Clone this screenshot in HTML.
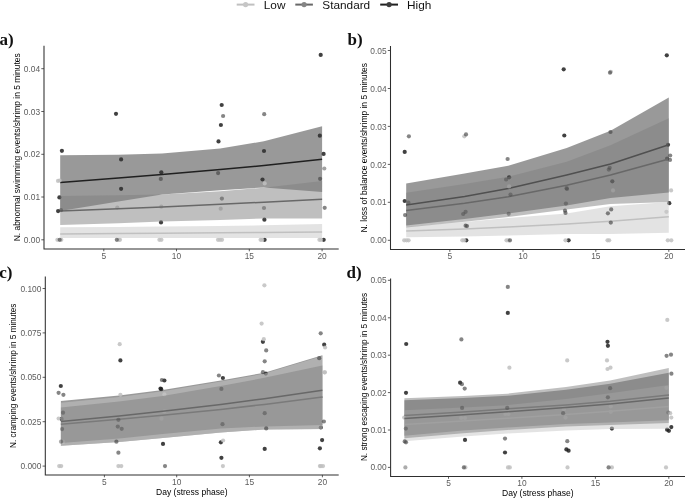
<!DOCTYPE html>
<html><head><meta charset="utf-8"><title>Figure</title>
<style>html,body{margin:0;padding:0;background:#fff;}body{width:685px;height:498px;overflow:hidden;font-family:"Liberation Sans", sans-serif;}svg{display:block;filter:grayscale(1);}</style>
</head><body>
<svg width="685" height="498" viewBox="0 0 685 498" font-family='"Liberation Sans", sans-serif'>
<rect width="685" height="498" fill="#fff"/>
<line x1="236.7" x2="254.5" y1="4.6" y2="4.6" stroke="#c0c0c0" stroke-width="2"/>
<circle cx="245.6" cy="4.6" r="2.6" fill="#c6c6c6"/>
<line x1="295.3" x2="312.9" y1="4.6" y2="4.6" stroke="#686868" stroke-width="2"/>
<circle cx="304.1" cy="4.6" r="2.6" fill="#858585"/>
<line x1="380.2" x2="398.0" y1="4.6" y2="4.6" stroke="#202020" stroke-width="2"/>
<circle cx="389.1" cy="4.6" r="2.6" fill="#3c3c3c"/>
<text x="263.8" y="8.5" font-size="11.8" fill="#111">Low</text>
<text x="322.3" y="8.5" font-size="11.8" fill="#111">Standard</text>
<text x="407.0" y="8.5" font-size="11.8" fill="#111">High</text>
<circle cx="116.0" cy="113.8" r="2.1" fill="#202020" fill-opacity="0.85"/>
<circle cx="320.7" cy="54.9" r="2.1" fill="#202020" fill-opacity="0.85"/>
<circle cx="221.7" cy="105.0" r="2.1" fill="#202020" fill-opacity="0.85"/>
<circle cx="220.9" cy="125.0" r="2.1" fill="#202020" fill-opacity="0.85"/>
<circle cx="218.5" cy="141.4" r="2.1" fill="#202020" fill-opacity="0.85"/>
<circle cx="319.8" cy="135.7" r="2.1" fill="#202020" fill-opacity="0.85"/>
<circle cx="61.9" cy="150.8" r="2.1" fill="#202020" fill-opacity="0.85"/>
<circle cx="121.1" cy="159.4" r="2.1" fill="#202020" fill-opacity="0.85"/>
<circle cx="161.3" cy="172.3" r="2.1" fill="#202020" fill-opacity="0.85"/>
<circle cx="121.1" cy="188.8" r="2.1" fill="#202020" fill-opacity="0.85"/>
<circle cx="59.4" cy="197.4" r="2.1" fill="#202020" fill-opacity="0.85"/>
<circle cx="58.1" cy="211.1" r="2.1" fill="#202020" fill-opacity="0.85"/>
<circle cx="161.0" cy="222.4" r="2.1" fill="#202020" fill-opacity="0.85"/>
<circle cx="264.0" cy="151.0" r="2.1" fill="#202020" fill-opacity="0.85"/>
<circle cx="323.6" cy="153.9" r="2.1" fill="#202020" fill-opacity="0.85"/>
<circle cx="262.5" cy="179.5" r="2.1" fill="#202020" fill-opacity="0.85"/>
<circle cx="264.4" cy="219.7" r="2.1" fill="#202020" fill-opacity="0.85"/>
<circle cx="264.6" cy="239.8" r="2.1" fill="#202020" fill-opacity="0.85"/>
<circle cx="323.7" cy="239.8" r="2.1" fill="#202020" fill-opacity="0.85"/>
<polygon points="60.2,155.2 118.4,154.7 162.0,153.5 220.2,148.6 263.9,141.3 322.1,126.2 322.1,191.9 263.9,187.5 220.2,190.2 162.0,194.6 118.4,201.6 60.2,210.9" fill="#333333" fill-opacity="0.5"/>
<polyline points="60.2,182.6 118.4,178.0 162.0,174.6 220.2,169.6 263.9,165.5 322.1,159.3" fill="none" stroke="#202020" stroke-width="1.55"/>
<circle cx="58.0" cy="180.9" r="2.1" fill="#c0c0c0" fill-opacity="0.85"/>
<circle cx="59.6" cy="180.5" r="2.1" fill="#c0c0c0" fill-opacity="0.85"/>
<circle cx="117.3" cy="207.6" r="2.1" fill="#c0c0c0" fill-opacity="0.85"/>
<circle cx="161.3" cy="206.7" r="2.1" fill="#c0c0c0" fill-opacity="0.85"/>
<circle cx="264.7" cy="183.4" r="2.1" fill="#c0c0c0" fill-opacity="0.85"/>
<circle cx="220.7" cy="208.7" r="2.1" fill="#c0c0c0" fill-opacity="0.85"/>
<circle cx="218.0" cy="239.8" r="2.1" fill="#c0c0c0" fill-opacity="0.85"/>
<circle cx="220.0" cy="239.8" r="2.1" fill="#c0c0c0" fill-opacity="0.85"/>
<circle cx="222.0" cy="239.8" r="2.1" fill="#c0c0c0" fill-opacity="0.85"/>
<circle cx="260.6" cy="239.8" r="2.1" fill="#c0c0c0" fill-opacity="0.85"/>
<circle cx="262.2" cy="239.8" r="2.1" fill="#c0c0c0" fill-opacity="0.85"/>
<circle cx="319.4" cy="239.8" r="2.1" fill="#c0c0c0" fill-opacity="0.85"/>
<circle cx="321.0" cy="239.8" r="2.1" fill="#c0c0c0" fill-opacity="0.85"/>
<circle cx="57.4" cy="239.8" r="2.1" fill="#c0c0c0" fill-opacity="0.85"/>
<circle cx="61.3" cy="239.8" r="2.1" fill="#c0c0c0" fill-opacity="0.85"/>
<circle cx="118.8" cy="239.8" r="2.1" fill="#c0c0c0" fill-opacity="0.85"/>
<circle cx="120.0" cy="239.8" r="2.1" fill="#c0c0c0" fill-opacity="0.85"/>
<circle cx="159.4" cy="239.8" r="2.1" fill="#c0c0c0" fill-opacity="0.85"/>
<circle cx="161.4" cy="239.8" r="2.1" fill="#c0c0c0" fill-opacity="0.85"/>
<polygon points="60.2,227.3 118.4,227.0 162.0,226.6 220.2,226.0 263.9,225.3 322.1,224.0 322.1,237.9 263.9,237.9 220.2,237.9 162.0,237.9 118.4,237.9 60.2,237.9" fill="#c8c8c8" fill-opacity="0.5"/>
<polyline points="60.2,233.9 118.4,233.5 162.0,233.2 220.2,232.8 263.9,232.4 322.1,231.9" fill="none" stroke="#c0c0c0" stroke-width="1.55"/>
<polygon points="60.2,195.9 118.4,195.3 162.0,194.6 220.2,191.3 263.9,187.7 322.1,180.9 322.1,218.4 263.9,218.5 220.2,220.0 162.0,221.6 118.4,223.2 60.2,224.9" fill="#7f7f7f" fill-opacity="0.5"/>
<polyline points="60.2,211.0 118.4,208.8 162.0,206.9 220.2,204.3 263.9,202.2 322.1,199.2" fill="none" stroke="#686868" stroke-width="1.55"/>
<circle cx="223.1" cy="116.0" r="2.1" fill="#434343" fill-opacity="0.65"/>
<circle cx="264.2" cy="114.2" r="2.1" fill="#434343" fill-opacity="0.65"/>
<circle cx="160.8" cy="178.9" r="2.1" fill="#434343" fill-opacity="0.65"/>
<circle cx="61.0" cy="210.2" r="2.1" fill="#434343" fill-opacity="0.45"/>
<circle cx="324.3" cy="168.5" r="2.1" fill="#707070" fill-opacity="0.65"/>
<circle cx="218.1" cy="173.1" r="2.1" fill="#434343" fill-opacity="0.65"/>
<circle cx="320.1" cy="178.8" r="2.1" fill="#434343" fill-opacity="0.65"/>
<circle cx="221.9" cy="198.6" r="2.1" fill="#303030" fill-opacity="0.45"/>
<circle cx="264.0" cy="208.0" r="2.1" fill="#434343" fill-opacity="0.45"/>
<circle cx="324.7" cy="207.8" r="2.1" fill="#434343" fill-opacity="0.65"/>
<circle cx="59.7" cy="239.8" r="2.1" fill="#434343" fill-opacity="0.65"/>
<circle cx="116.8" cy="239.8" r="2.1" fill="#434343" fill-opacity="0.65"/>
<path d="M44.0,45.8 V248.9 H338.7" fill="none" stroke="#2e2e2e" stroke-width="1.05"/>
<line x1="41.3" x2="44.0" y1="239.8" y2="239.8" stroke="#333" stroke-width="0.8"/>
<text x="40.1" y="242.9" text-anchor="end" font-size="8.4" fill="#5c5c5c">0.00</text>
<line x1="41.3" x2="44.0" y1="197.0" y2="197.0" stroke="#333" stroke-width="0.8"/>
<text x="40.1" y="200.1" text-anchor="end" font-size="8.4" fill="#5c5c5c">0.01</text>
<line x1="41.3" x2="44.0" y1="154.3" y2="154.3" stroke="#333" stroke-width="0.8"/>
<text x="40.1" y="157.4" text-anchor="end" font-size="8.4" fill="#5c5c5c">0.02</text>
<line x1="41.3" x2="44.0" y1="111.5" y2="111.5" stroke="#333" stroke-width="0.8"/>
<text x="40.1" y="114.5" text-anchor="end" font-size="8.4" fill="#5c5c5c">0.03</text>
<line x1="41.3" x2="44.0" y1="68.7" y2="68.7" stroke="#333" stroke-width="0.8"/>
<text x="40.1" y="71.8" text-anchor="end" font-size="8.4" fill="#5c5c5c">0.04</text>
<line x1="103.8" x2="103.8" y1="248.9" y2="251.3" stroke="#333" stroke-width="0.8"/>
<text x="103.8" y="258.9" text-anchor="middle" font-size="8.4" fill="#5c5c5c">5</text>
<line x1="176.5" x2="176.5" y1="248.9" y2="251.3" stroke="#333" stroke-width="0.8"/>
<text x="176.5" y="258.9" text-anchor="middle" font-size="8.4" fill="#5c5c5c">10</text>
<line x1="249.3" x2="249.3" y1="248.9" y2="251.3" stroke="#333" stroke-width="0.8"/>
<text x="249.3" y="258.9" text-anchor="middle" font-size="8.4" fill="#5c5c5c">15</text>
<line x1="322.1" x2="322.1" y1="248.9" y2="251.3" stroke="#333" stroke-width="0.8"/>
<text x="322.1" y="258.9" text-anchor="middle" font-size="8.4" fill="#5c5c5c">20</text>
<text transform="translate(20.0,241.3) rotate(-90)" textLength="188.0" lengthAdjust="spacingAndGlyphs" font-size="9.3" fill="#000">N. abnormal swimming events/shrimp in 5 minutes</text>
<text x="-0.6" y="44.6" font-family='"Liberation Serif", serif' font-weight="bold" font-size="17" fill="#111">a)</text>
<circle cx="666.8" cy="55.3" r="2.1" fill="#202020" fill-opacity="0.85"/>
<circle cx="563.7" cy="69.3" r="2.1" fill="#202020" fill-opacity="0.85"/>
<circle cx="564.3" cy="135.5" r="2.1" fill="#202020" fill-opacity="0.85"/>
<circle cx="404.7" cy="151.9" r="2.1" fill="#202020" fill-opacity="0.85"/>
<circle cx="509.1" cy="177.3" r="2.1" fill="#202020" fill-opacity="0.85"/>
<circle cx="404.7" cy="201.0" r="2.1" fill="#202020" fill-opacity="0.85"/>
<circle cx="466.3" cy="240.3" r="2.1" fill="#202020" fill-opacity="0.85"/>
<circle cx="668.0" cy="144.8" r="2.1" fill="#202020" fill-opacity="0.85"/>
<circle cx="667.1" cy="158.6" r="2.1" fill="#202020" fill-opacity="0.85"/>
<circle cx="612.3" cy="181.3" r="2.1" fill="#202020" fill-opacity="0.85"/>
<circle cx="669.3" cy="203.2" r="2.1" fill="#202020" fill-opacity="0.85"/>
<circle cx="568.6" cy="240.3" r="2.1" fill="#202020" fill-opacity="0.85"/>
<polygon points="406.2,183.5 464.6,173.6 508.3,165.7 566.7,148.1 610.5,130.8 668.8,97.6 668.8,192.6 610.5,197.9 566.7,205.6 508.3,213.6 464.6,219.0 406.2,225.6" fill="#333333" fill-opacity="0.5"/>
<polyline points="406.2,204.9 464.6,196.5 508.3,188.6 566.7,175.0 610.5,164.0 668.8,144.7" fill="none" stroke="#202020" stroke-width="1.55"/>
<circle cx="464.3" cy="136.3" r="2.1" fill="#c0c0c0" fill-opacity="0.85"/>
<circle cx="509.1" cy="186.4" r="2.1" fill="#c0c0c0" fill-opacity="0.85"/>
<circle cx="404.2" cy="240.3" r="2.1" fill="#c0c0c0" fill-opacity="0.85"/>
<circle cx="406.6" cy="240.3" r="2.1" fill="#c0c0c0" fill-opacity="0.85"/>
<circle cx="408.6" cy="240.3" r="2.1" fill="#c0c0c0" fill-opacity="0.85"/>
<circle cx="462.3" cy="240.3" r="2.1" fill="#c0c0c0" fill-opacity="0.85"/>
<circle cx="464.1" cy="240.3" r="2.1" fill="#c0c0c0" fill-opacity="0.85"/>
<circle cx="506.5" cy="240.3" r="2.1" fill="#c0c0c0" fill-opacity="0.85"/>
<circle cx="508.3" cy="240.3" r="2.1" fill="#c0c0c0" fill-opacity="0.85"/>
<circle cx="613.0" cy="190.4" r="2.1" fill="#c0c0c0" fill-opacity="0.85"/>
<circle cx="671.1" cy="190.4" r="2.1" fill="#c0c0c0" fill-opacity="0.85"/>
<circle cx="666.4" cy="211.8" r="2.1" fill="#c0c0c0" fill-opacity="0.85"/>
<circle cx="565.5" cy="240.3" r="2.1" fill="#c0c0c0" fill-opacity="0.85"/>
<circle cx="607.5" cy="240.3" r="2.1" fill="#c0c0c0" fill-opacity="0.85"/>
<circle cx="609.2" cy="240.3" r="2.1" fill="#c0c0c0" fill-opacity="0.85"/>
<circle cx="667.8" cy="240.3" r="2.1" fill="#c0c0c0" fill-opacity="0.85"/>
<circle cx="671.3" cy="240.3" r="2.1" fill="#c0c0c0" fill-opacity="0.85"/>
<polygon points="406.2,227.0 464.6,222.0 508.3,217.9 566.7,213.6 610.5,206.3 668.8,201.9 668.8,232.8 610.5,233.9 566.7,234.0 508.3,235.6 464.6,236.4 406.2,237.3" fill="#c8c8c8" fill-opacity="0.5"/>
<polyline points="406.2,231.0 464.6,228.9 508.3,226.9 566.7,223.9 610.5,221.3 668.8,216.7" fill="none" stroke="#c0c0c0" stroke-width="1.55"/>
<polygon points="406.2,192.8 464.6,184.1 508.3,176.8 566.7,161.8 610.5,145.2 668.8,118.3 668.8,201.9 610.5,204.1 566.7,209.4 508.3,217.1 464.6,221.8 406.2,227.5" fill="#7f7f7f" fill-opacity="0.5"/>
<polyline points="406.2,210.4 464.6,203.2 508.3,196.8 566.7,185.3 610.5,175.1 668.8,158.9" fill="none" stroke="#686868" stroke-width="1.55"/>
<circle cx="408.9" cy="136.3" r="2.1" fill="#434343" fill-opacity="0.65"/>
<circle cx="466.0" cy="134.4" r="2.1" fill="#434343" fill-opacity="0.65"/>
<circle cx="610.0" cy="72.7" r="2.1" fill="#434343" fill-opacity="0.65"/>
<circle cx="610.8" cy="71.8" r="2.1" fill="#434343" fill-opacity="0.35"/>
<circle cx="610.5" cy="132.0" r="2.1" fill="#434343" fill-opacity="0.65"/>
<circle cx="507.6" cy="159.0" r="2.1" fill="#434343" fill-opacity="0.65"/>
<circle cx="506.1" cy="179.5" r="2.1" fill="#434343" fill-opacity="0.45"/>
<circle cx="510.5" cy="194.6" r="2.1" fill="#434343" fill-opacity="0.45"/>
<circle cx="408.4" cy="202.7" r="2.1" fill="#434343" fill-opacity="0.45"/>
<circle cx="405.1" cy="215.1" r="2.1" fill="#434343" fill-opacity="0.65"/>
<circle cx="465.6" cy="211.8" r="2.1" fill="#434343" fill-opacity="0.45"/>
<circle cx="463.2" cy="214.0" r="2.1" fill="#434343" fill-opacity="0.45"/>
<circle cx="508.7" cy="213.8" r="2.1" fill="#434343" fill-opacity="0.45"/>
<circle cx="465.6" cy="225.7" r="2.1" fill="#434343" fill-opacity="0.65"/>
<circle cx="467.0" cy="226.1" r="2.1" fill="#434343" fill-opacity="0.65"/>
<circle cx="510.0" cy="240.3" r="2.1" fill="#434343" fill-opacity="0.65"/>
<circle cx="670.2" cy="155.5" r="2.1" fill="#434343" fill-opacity="0.65"/>
<circle cx="670.0" cy="159.9" r="2.1" fill="#434343" fill-opacity="0.65"/>
<circle cx="609.7" cy="167.8" r="2.1" fill="#434343" fill-opacity="0.45"/>
<circle cx="608.8" cy="169.6" r="2.1" fill="#434343" fill-opacity="0.45"/>
<circle cx="567.0" cy="189.0" r="2.1" fill="#434343" fill-opacity="0.45"/>
<circle cx="566.6" cy="188.2" r="2.1" fill="#434343" fill-opacity="0.45"/>
<circle cx="565.9" cy="203.6" r="2.1" fill="#434343" fill-opacity="0.45"/>
<circle cx="565.0" cy="210.7" r="2.1" fill="#434343" fill-opacity="0.65"/>
<circle cx="565.5" cy="212.9" r="2.1" fill="#434343" fill-opacity="0.65"/>
<circle cx="611.2" cy="209.4" r="2.1" fill="#434343" fill-opacity="0.65"/>
<circle cx="607.9" cy="213.3" r="2.1" fill="#434343" fill-opacity="0.65"/>
<circle cx="610.8" cy="222.6" r="2.1" fill="#434343" fill-opacity="0.65"/>
<path d="M390.5,46.0 V249.4 H685.0" fill="none" stroke="#2e2e2e" stroke-width="1.05"/>
<line x1="387.8" x2="390.5" y1="240.3" y2="240.3" stroke="#333" stroke-width="0.8"/>
<text x="386.6" y="243.4" text-anchor="end" font-size="8.4" fill="#5c5c5c">0.00</text>
<line x1="387.8" x2="390.5" y1="202.3" y2="202.3" stroke="#333" stroke-width="0.8"/>
<text x="386.6" y="205.4" text-anchor="end" font-size="8.4" fill="#5c5c5c">0.01</text>
<line x1="387.8" x2="390.5" y1="164.4" y2="164.4" stroke="#333" stroke-width="0.8"/>
<text x="386.6" y="167.5" text-anchor="end" font-size="8.4" fill="#5c5c5c">0.02</text>
<line x1="387.8" x2="390.5" y1="126.4" y2="126.4" stroke="#333" stroke-width="0.8"/>
<text x="386.6" y="129.5" text-anchor="end" font-size="8.4" fill="#5c5c5c">0.03</text>
<line x1="387.8" x2="390.5" y1="88.5" y2="88.5" stroke="#333" stroke-width="0.8"/>
<text x="386.6" y="91.5" text-anchor="end" font-size="8.4" fill="#5c5c5c">0.04</text>
<line x1="387.8" x2="390.5" y1="50.5" y2="50.5" stroke="#333" stroke-width="0.8"/>
<text x="386.6" y="53.5" text-anchor="end" font-size="8.4" fill="#5c5c5c">0.05</text>
<line x1="449.8" x2="449.8" y1="249.4" y2="251.8" stroke="#333" stroke-width="0.8"/>
<text x="449.8" y="259.4" text-anchor="middle" font-size="8.4" fill="#5c5c5c">5</text>
<line x1="523.0" x2="523.0" y1="249.4" y2="251.8" stroke="#333" stroke-width="0.8"/>
<text x="523.0" y="259.4" text-anchor="middle" font-size="8.4" fill="#5c5c5c">10</text>
<line x1="595.8" x2="595.8" y1="249.4" y2="251.8" stroke="#333" stroke-width="0.8"/>
<text x="595.8" y="259.4" text-anchor="middle" font-size="8.4" fill="#5c5c5c">15</text>
<line x1="668.8" x2="668.8" y1="249.4" y2="251.8" stroke="#333" stroke-width="0.8"/>
<text x="668.8" y="259.4" text-anchor="middle" font-size="8.4" fill="#5c5c5c">20</text>
<text transform="translate(366.6,232.5) rotate(-90)" textLength="169.4" lengthAdjust="spacingAndGlyphs" font-size="9.3" fill="#000">N. loss of balance events/shrimp in 5 minutes</text>
<text x="347.5" y="44.6" font-family='"Liberation Serif", serif' font-weight="bold" font-size="17" fill="#111">b)</text>
<circle cx="120.4" cy="360.4" r="2.1" fill="#202020" fill-opacity="0.85"/>
<circle cx="262.9" cy="341.8" r="2.1" fill="#202020" fill-opacity="0.85"/>
<circle cx="324.2" cy="344.7" r="2.1" fill="#202020" fill-opacity="0.85"/>
<circle cx="265.8" cy="373.6" r="2.1" fill="#202020" fill-opacity="0.85"/>
<circle cx="60.8" cy="386.0" r="2.1" fill="#202020" fill-opacity="0.85"/>
<circle cx="61.6" cy="418.9" r="2.1" fill="#202020" fill-opacity="0.85"/>
<circle cx="164.4" cy="380.5" r="2.1" fill="#202020" fill-opacity="0.85"/>
<circle cx="160.5" cy="388.6" r="2.1" fill="#202020" fill-opacity="0.85"/>
<circle cx="161.2" cy="389.2" r="2.1" fill="#202020" fill-opacity="0.85"/>
<circle cx="163.0" cy="443.9" r="2.1" fill="#202020" fill-opacity="0.85"/>
<circle cx="222.9" cy="378.0" r="2.1" fill="#202020" fill-opacity="0.85"/>
<circle cx="220.9" cy="442.3" r="2.1" fill="#202020" fill-opacity="0.85"/>
<circle cx="221.4" cy="457.8" r="2.1" fill="#202020" fill-opacity="0.85"/>
<circle cx="264.7" cy="448.9" r="2.1" fill="#202020" fill-opacity="0.85"/>
<circle cx="320.8" cy="427.5" r="2.1" fill="#202020" fill-opacity="0.85"/>
<circle cx="322.1" cy="440.1" r="2.1" fill="#202020" fill-opacity="0.85"/>
<circle cx="319.9" cy="448.3" r="2.1" fill="#202020" fill-opacity="0.85"/>
<polygon points="60.9,401.1 119.1,395.5 162.7,390.0 220.8,380.5 264.4,372.7 322.4,355.3 322.4,428.9 264.4,429.5 220.8,432.4 162.7,437.9 119.1,441.9 60.9,445.7" fill="#333333" fill-opacity="0.5"/>
<polyline points="60.9,424.3 119.1,419.3 162.7,415.2 220.8,409.4 264.4,404.4 322.4,396.9" fill="none" stroke="#202020" stroke-width="1.55"/>
<circle cx="119.7" cy="344.2" r="2.1" fill="#c0c0c0" fill-opacity="0.85"/>
<circle cx="264.4" cy="285.3" r="2.1" fill="#c0c0c0" fill-opacity="0.85"/>
<circle cx="261.6" cy="323.6" r="2.1" fill="#c0c0c0" fill-opacity="0.85"/>
<circle cx="263.8" cy="339.2" r="2.1" fill="#c0c0c0" fill-opacity="0.85"/>
<circle cx="325.1" cy="347.5" r="2.1" fill="#c0c0c0" fill-opacity="0.85"/>
<circle cx="324.9" cy="372.3" r="2.1" fill="#c0c0c0" fill-opacity="0.85"/>
<circle cx="58.6" cy="418.5" r="2.1" fill="#c0c0c0" fill-opacity="0.85"/>
<circle cx="63.2" cy="441.7" r="2.1" fill="#c0c0c0" fill-opacity="0.85"/>
<circle cx="59.2" cy="466.1" r="2.1" fill="#c0c0c0" fill-opacity="0.85"/>
<circle cx="61.2" cy="466.1" r="2.1" fill="#c0c0c0" fill-opacity="0.85"/>
<circle cx="120.4" cy="394.8" r="2.1" fill="#c0c0c0" fill-opacity="0.85"/>
<circle cx="118.4" cy="466.1" r="2.1" fill="#c0c0c0" fill-opacity="0.85"/>
<circle cx="121.3" cy="466.1" r="2.1" fill="#c0c0c0" fill-opacity="0.85"/>
<circle cx="164.4" cy="394.4" r="2.1" fill="#c0c0c0" fill-opacity="0.85"/>
<circle cx="164.4" cy="411.4" r="2.1" fill="#c0c0c0" fill-opacity="0.85"/>
<circle cx="161.5" cy="418.7" r="2.1" fill="#c0c0c0" fill-opacity="0.85"/>
<circle cx="223.1" cy="440.5" r="2.1" fill="#c0c0c0" fill-opacity="0.85"/>
<circle cx="222.9" cy="466.1" r="2.1" fill="#c0c0c0" fill-opacity="0.85"/>
<circle cx="324.5" cy="372.3" r="2.1" fill="#c0c0c0" fill-opacity="0.85"/>
<circle cx="319.9" cy="466.1" r="2.1" fill="#c0c0c0" fill-opacity="0.85"/>
<circle cx="321.0" cy="466.1" r="2.1" fill="#c0c0c0" fill-opacity="0.85"/>
<circle cx="323.0" cy="466.1" r="2.1" fill="#c0c0c0" fill-opacity="0.85"/>
<polygon points="60.9,402.7 119.1,397.0 162.7,391.3 220.8,381.6 264.4,373.6 322.4,356.0 322.4,428.9 264.4,429.5 220.8,432.4 162.7,437.9 119.1,441.9 60.9,445.7" fill="#c8c8c8" fill-opacity="0.5"/>
<polygon points="60.9,407.5 119.1,401.5 162.7,396.0 220.8,386.0 264.4,377.8 322.4,365.6 322.4,425.1 264.4,426.4 220.8,428.6 162.7,434.1 119.1,438.6 60.9,443.0" fill="#7f7f7f" fill-opacity="0.5"/>
<polyline points="60.9,421.6 119.1,416.0 162.7,411.3 220.8,404.4 264.4,398.7 322.4,390.2" fill="none" stroke="#686868" stroke-width="1.55"/>
<circle cx="266.2" cy="350.4" r="2.1" fill="#434343" fill-opacity="0.65"/>
<circle cx="264.7" cy="361.3" r="2.1" fill="#434343" fill-opacity="0.65"/>
<circle cx="320.7" cy="333.3" r="2.1" fill="#434343" fill-opacity="0.65"/>
<circle cx="319.2" cy="358.2" r="2.1" fill="#434343" fill-opacity="0.65"/>
<circle cx="262.9" cy="372.2" r="2.1" fill="#434343" fill-opacity="0.65"/>
<circle cx="218.9" cy="375.5" r="2.1" fill="#434343" fill-opacity="0.65"/>
<circle cx="58.6" cy="392.8" r="2.1" fill="#434343" fill-opacity="0.65"/>
<circle cx="63.4" cy="394.8" r="2.1" fill="#434343" fill-opacity="0.65"/>
<circle cx="63.0" cy="412.7" r="2.1" fill="#434343" fill-opacity="0.45"/>
<circle cx="62.1" cy="429.1" r="2.1" fill="#434343" fill-opacity="0.45"/>
<circle cx="61.0" cy="441.7" r="2.1" fill="#434343" fill-opacity="0.45"/>
<circle cx="118.4" cy="419.8" r="2.1" fill="#434343" fill-opacity="0.45"/>
<circle cx="117.8" cy="426.6" r="2.1" fill="#434343" fill-opacity="0.45"/>
<circle cx="121.7" cy="428.8" r="2.1" fill="#434343" fill-opacity="0.45"/>
<circle cx="116.4" cy="441.7" r="2.1" fill="#434343" fill-opacity="0.65"/>
<circle cx="118.4" cy="452.7" r="2.1" fill="#434343" fill-opacity="0.65"/>
<circle cx="161.9" cy="380.0" r="2.1" fill="#434343" fill-opacity="0.65"/>
<circle cx="165.0" cy="466.1" r="2.1" fill="#434343" fill-opacity="0.65"/>
<circle cx="221.4" cy="388.9" r="2.1" fill="#434343" fill-opacity="0.45"/>
<circle cx="222.5" cy="424.2" r="2.1" fill="#434343" fill-opacity="0.45"/>
<circle cx="264.7" cy="413.2" r="2.1" fill="#434343" fill-opacity="0.45"/>
<circle cx="266.2" cy="428.4" r="2.1" fill="#434343" fill-opacity="0.65"/>
<circle cx="323.9" cy="421.5" r="2.1" fill="#434343" fill-opacity="0.65"/>
<path d="M45.3,276.6 V474.9 H338.7" fill="none" stroke="#2e2e2e" stroke-width="1.05"/>
<line x1="42.6" x2="45.3" y1="466.1" y2="466.1" stroke="#333" stroke-width="0.8"/>
<text x="41.4" y="469.2" text-anchor="end" font-size="8.4" fill="#5c5c5c">0.000</text>
<line x1="42.6" x2="45.3" y1="421.7" y2="421.7" stroke="#333" stroke-width="0.8"/>
<text x="41.4" y="424.8" text-anchor="end" font-size="8.4" fill="#5c5c5c">0.025</text>
<line x1="42.6" x2="45.3" y1="377.3" y2="377.3" stroke="#333" stroke-width="0.8"/>
<text x="41.4" y="380.4" text-anchor="end" font-size="8.4" fill="#5c5c5c">0.050</text>
<line x1="42.6" x2="45.3" y1="332.9" y2="332.9" stroke="#333" stroke-width="0.8"/>
<text x="41.4" y="335.9" text-anchor="end" font-size="8.4" fill="#5c5c5c">0.075</text>
<line x1="42.6" x2="45.3" y1="288.5" y2="288.5" stroke="#333" stroke-width="0.8"/>
<text x="41.4" y="291.6" text-anchor="end" font-size="8.4" fill="#5c5c5c">0.100</text>
<line x1="104.4" x2="104.4" y1="474.9" y2="477.3" stroke="#333" stroke-width="0.8"/>
<text x="104.4" y="484.9" text-anchor="middle" font-size="8.4" fill="#5c5c5c">5</text>
<line x1="176.7" x2="176.7" y1="474.9" y2="477.3" stroke="#333" stroke-width="0.8"/>
<text x="176.7" y="484.9" text-anchor="middle" font-size="8.4" fill="#5c5c5c">10</text>
<line x1="249.4" x2="249.4" y1="474.9" y2="477.3" stroke="#333" stroke-width="0.8"/>
<text x="249.4" y="484.9" text-anchor="middle" font-size="8.4" fill="#5c5c5c">15</text>
<line x1="322.4" x2="322.4" y1="474.9" y2="477.3" stroke="#333" stroke-width="0.8"/>
<text x="322.4" y="484.9" text-anchor="middle" font-size="8.4" fill="#5c5c5c">20</text>
<text transform="translate(16.1,447.9) rotate(-90)" textLength="144.3" lengthAdjust="spacingAndGlyphs" font-size="9.3" fill="#000">N. cramping events/shrimp in 5 minutes</text>
<text x="156.0" y="494.7" textLength="71.6" lengthAdjust="spacingAndGlyphs" font-size="8.7" fill="#000">Day (stress phase)</text>
<text x="-0.7" y="277.6" font-family='"Liberation Serif", serif' font-weight="bold" font-size="17" fill="#111">c)</text>
<circle cx="507.8" cy="312.9" r="2.1" fill="#202020" fill-opacity="0.85"/>
<circle cx="406.2" cy="344.0" r="2.1" fill="#202020" fill-opacity="0.85"/>
<circle cx="607.5" cy="341.8" r="2.1" fill="#202020" fill-opacity="0.85"/>
<circle cx="607.9" cy="345.8" r="2.1" fill="#202020" fill-opacity="0.85"/>
<circle cx="460.1" cy="382.7" r="2.1" fill="#202020" fill-opacity="0.85"/>
<circle cx="406.0" cy="392.8" r="2.1" fill="#202020" fill-opacity="0.85"/>
<circle cx="465.0" cy="439.9" r="2.1" fill="#202020" fill-opacity="0.85"/>
<circle cx="505.0" cy="452.5" r="2.1" fill="#202020" fill-opacity="0.85"/>
<circle cx="668.2" cy="412.5" r="2.1" fill="#202020" fill-opacity="0.85"/>
<circle cx="671.3" cy="427.1" r="2.1" fill="#202020" fill-opacity="0.85"/>
<circle cx="667.1" cy="429.7" r="2.1" fill="#202020" fill-opacity="0.85"/>
<circle cx="668.9" cy="430.8" r="2.1" fill="#202020" fill-opacity="0.85"/>
<circle cx="611.9" cy="428.6" r="2.1" fill="#202020" fill-opacity="0.85"/>
<circle cx="566.4" cy="449.4" r="2.1" fill="#202020" fill-opacity="0.85"/>
<circle cx="568.6" cy="450.7" r="2.1" fill="#202020" fill-opacity="0.85"/>
<polygon points="404.4,400.3 463.2,397.9 507.2,395.8 566.0,389.8 610.1,383.8 668.8,372.8 668.8,420.3 610.1,422.6 566.0,424.0 507.2,427.5 463.2,430.5 404.4,435.8" fill="#333333" fill-opacity="0.5"/>
<polyline points="404.4,415.6 463.2,411.9 507.2,408.9 566.0,404.9 610.1,401.3 668.8,395.0" fill="none" stroke="#202020" stroke-width="1.55"/>
<circle cx="509.4" cy="367.7" r="2.1" fill="#c0c0c0" fill-opacity="0.85"/>
<circle cx="667.3" cy="319.9" r="2.1" fill="#c0c0c0" fill-opacity="0.85"/>
<circle cx="567.2" cy="360.4" r="2.1" fill="#c0c0c0" fill-opacity="0.85"/>
<circle cx="607.0" cy="360.4" r="2.1" fill="#c0c0c0" fill-opacity="0.85"/>
<circle cx="607.5" cy="369.0" r="2.1" fill="#c0c0c0" fill-opacity="0.85"/>
<circle cx="610.5" cy="367.7" r="2.1" fill="#c0c0c0" fill-opacity="0.85"/>
<circle cx="404.2" cy="417.6" r="2.1" fill="#c0c0c0" fill-opacity="0.85"/>
<circle cx="461.2" cy="418.0" r="2.1" fill="#c0c0c0" fill-opacity="0.85"/>
<circle cx="465.0" cy="418.0" r="2.1" fill="#c0c0c0" fill-opacity="0.85"/>
<circle cx="505.4" cy="414.0" r="2.1" fill="#c0c0c0" fill-opacity="0.85"/>
<circle cx="508.5" cy="414.0" r="2.1" fill="#c0c0c0" fill-opacity="0.85"/>
<circle cx="465.4" cy="467.4" r="2.1" fill="#c0c0c0" fill-opacity="0.85"/>
<circle cx="508.0" cy="467.4" r="2.1" fill="#c0c0c0" fill-opacity="0.85"/>
<circle cx="509.8" cy="467.4" r="2.1" fill="#c0c0c0" fill-opacity="0.85"/>
<circle cx="666.4" cy="387.8" r="2.1" fill="#c0c0c0" fill-opacity="0.85"/>
<circle cx="610.8" cy="406.3" r="2.1" fill="#c0c0c0" fill-opacity="0.85"/>
<circle cx="610.8" cy="411.8" r="2.1" fill="#c0c0c0" fill-opacity="0.85"/>
<circle cx="563.9" cy="409.2" r="2.1" fill="#c0c0c0" fill-opacity="0.85"/>
<circle cx="565.5" cy="417.6" r="2.1" fill="#c0c0c0" fill-opacity="0.85"/>
<circle cx="670.2" cy="413.2" r="2.1" fill="#c0c0c0" fill-opacity="0.85"/>
<circle cx="671.3" cy="417.6" r="2.1" fill="#c0c0c0" fill-opacity="0.85"/>
<circle cx="567.5" cy="467.4" r="2.1" fill="#c0c0c0" fill-opacity="0.85"/>
<circle cx="611.9" cy="467.4" r="2.1" fill="#c0c0c0" fill-opacity="0.85"/>
<circle cx="666.0" cy="467.4" r="2.1" fill="#c0c0c0" fill-opacity="0.85"/>
<polygon points="404.4,410.3 463.2,407.5 507.2,405.2 566.0,399.0 610.1,393.2 668.8,385.0 668.8,428.7 610.1,429.1 566.0,430.6 507.2,433.5 463.2,436.6 404.4,441.2" fill="#c8c8c8" fill-opacity="0.5"/>
<polyline points="404.4,424.6 463.2,421.1 507.2,418.3 566.0,414.4 610.1,411.2 668.8,406.6" fill="none" stroke="#c0c0c0" stroke-width="1.55"/>
<polygon points="404.4,398.3 463.2,395.9 507.2,393.7 566.0,387.1 610.1,380.5 668.8,368.1 668.8,422.9 610.1,425.0 566.0,426.5 507.2,430.0 463.2,433.3 404.4,438.3" fill="#7f7f7f" fill-opacity="0.5"/>
<polyline points="404.4,418.6 463.2,414.8 507.2,411.8 566.0,407.5 610.1,404.0 668.8,398.1" fill="none" stroke="#686868" stroke-width="1.55"/>
<circle cx="507.8" cy="286.9" r="2.1" fill="#434343" fill-opacity="0.65"/>
<circle cx="461.4" cy="339.4" r="2.1" fill="#434343" fill-opacity="0.65"/>
<circle cx="666.6" cy="355.8" r="2.1" fill="#434343" fill-opacity="0.65"/>
<circle cx="671.0" cy="354.7" r="2.1" fill="#434343" fill-opacity="0.65"/>
<circle cx="671.4" cy="373.7" r="2.1" fill="#434343" fill-opacity="0.65"/>
<circle cx="461.9" cy="384.2" r="2.1" fill="#434343" fill-opacity="0.65"/>
<circle cx="464.7" cy="388.6" r="2.1" fill="#434343" fill-opacity="0.65"/>
<circle cx="462.1" cy="407.9" r="2.1" fill="#434343" fill-opacity="0.45"/>
<circle cx="507.2" cy="407.9" r="2.1" fill="#434343" fill-opacity="0.45"/>
<circle cx="405.8" cy="428.6" r="2.1" fill="#434343" fill-opacity="0.45"/>
<circle cx="505.0" cy="438.6" r="2.1" fill="#434343" fill-opacity="0.65"/>
<circle cx="404.7" cy="441.4" r="2.1" fill="#434343" fill-opacity="0.65"/>
<circle cx="406.0" cy="442.3" r="2.1" fill="#434343" fill-opacity="0.65"/>
<circle cx="405.4" cy="467.4" r="2.1" fill="#808080" fill-opacity="0.65"/>
<circle cx="463.9" cy="467.4" r="2.1" fill="#434343" fill-opacity="0.65"/>
<circle cx="610.1" cy="388.2" r="2.1" fill="#434343" fill-opacity="0.45"/>
<circle cx="607.9" cy="397.3" r="2.1" fill="#434343" fill-opacity="0.45"/>
<circle cx="563.1" cy="413.2" r="2.1" fill="#434343" fill-opacity="0.45"/>
<circle cx="567.3" cy="441.2" r="2.1" fill="#434343" fill-opacity="0.65"/>
<circle cx="608.6" cy="467.4" r="2.1" fill="#434343" fill-opacity="0.65"/>
<path d="M390.6,278.6 V476.4 H685.0" fill="none" stroke="#2e2e2e" stroke-width="1.05"/>
<line x1="387.9" x2="390.6" y1="467.4" y2="467.4" stroke="#333" stroke-width="0.8"/>
<text x="386.7" y="470.4" text-anchor="end" font-size="8.4" fill="#5c5c5c">0.00</text>
<line x1="387.9" x2="390.6" y1="430.0" y2="430.0" stroke="#333" stroke-width="0.8"/>
<text x="386.7" y="433.1" text-anchor="end" font-size="8.4" fill="#5c5c5c">0.01</text>
<line x1="387.9" x2="390.6" y1="392.6" y2="392.6" stroke="#333" stroke-width="0.8"/>
<text x="386.7" y="395.7" text-anchor="end" font-size="8.4" fill="#5c5c5c">0.02</text>
<line x1="387.9" x2="390.6" y1="355.2" y2="355.2" stroke="#333" stroke-width="0.8"/>
<text x="386.7" y="358.2" text-anchor="end" font-size="8.4" fill="#5c5c5c">0.03</text>
<line x1="387.9" x2="390.6" y1="317.8" y2="317.8" stroke="#333" stroke-width="0.8"/>
<text x="386.7" y="320.9" text-anchor="end" font-size="8.4" fill="#5c5c5c">0.04</text>
<line x1="387.9" x2="390.6" y1="280.3" y2="280.3" stroke="#333" stroke-width="0.8"/>
<text x="386.7" y="283.4" text-anchor="end" font-size="8.4" fill="#5c5c5c">0.05</text>
<line x1="448.5" x2="448.5" y1="476.4" y2="478.8" stroke="#333" stroke-width="0.8"/>
<text x="448.5" y="486.4" text-anchor="middle" font-size="8.4" fill="#5c5c5c">5</text>
<line x1="521.9" x2="521.9" y1="476.4" y2="478.8" stroke="#333" stroke-width="0.8"/>
<text x="521.9" y="486.4" text-anchor="middle" font-size="8.4" fill="#5c5c5c">10</text>
<line x1="595.4" x2="595.4" y1="476.4" y2="478.8" stroke="#333" stroke-width="0.8"/>
<text x="595.4" y="486.4" text-anchor="middle" font-size="8.4" fill="#5c5c5c">15</text>
<line x1="668.8" x2="668.8" y1="476.4" y2="478.8" stroke="#333" stroke-width="0.8"/>
<text x="668.8" y="486.4" text-anchor="middle" font-size="8.4" fill="#5c5c5c">20</text>
<text transform="translate(366.6,461.1) rotate(-90)" textLength="168.3" lengthAdjust="spacingAndGlyphs" font-size="9.3" fill="#000">N. strong escaping events/shrimp in 5 minutes</text>
<text x="502.0" y="496.0" textLength="71.6" lengthAdjust="spacingAndGlyphs" font-size="8.7" fill="#000">Day (stress phase)</text>
<text x="346.6" y="277.8" font-family='"Liberation Serif", serif' font-weight="bold" font-size="17" fill="#111">d)</text>
</svg>
</body></html>
